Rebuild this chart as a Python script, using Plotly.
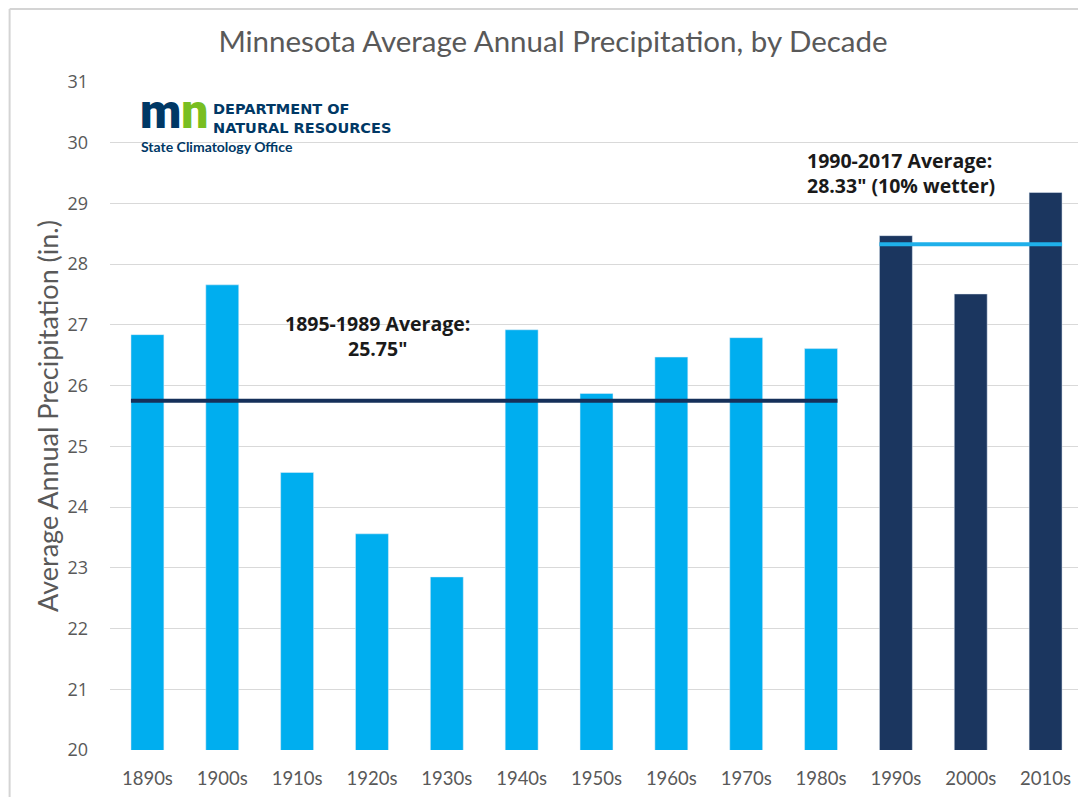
import plotly.graph_objects as go

decades = ["1890s", "1900s", "1910s", "1920s", "1930s", "1940s", "1950s",
           "1960s", "1970s", "1980s", "1990s", "2000s", "2010s"]
precip = [26.84, 27.66, 24.57, 23.56, 22.85, 26.92, 25.87,
          26.47, 26.79, 26.61, 28.47, 27.51, 29.18]
period = ["early"] * 10 + ["recent"] * 3
avg_early = 25.75
avg_recent = 28.33
y_ticks = list(range(20, 32))

LIGHT = "#00aeef"
DARK = "#1b365f"
AVG_EARLY_COLOR = "#15305a"
AVG_RECENT_COLOR = "#1fb0ea"
GRAY = "#595959"
BAR_W = 0.44

W, H = 1086, 797
OFF = 8  # page body offset
ML, MR, MT, MB = 101.5, 10.5, 74, 55
PW, PH = W - ML - MR, H - MT - MB

def paper_x(sx):
    return (sx - OFF - ML) / PW

def paper_y(sy):
    return ((H - (sy - OFF)) - MB) / PH

colors = [LIGHT if p == "early" else DARK for p in period]

fig = go.Figure()
fig.add_trace(go.Bar(x=decades, y=precip, marker_color=colors, width=BAR_W,
                     showlegend=False, hoverinfo="x+y"))

early_idx = [i for i, p in enumerate(period) if p == "early"]
recent_idx = [i for i, p in enumerate(period) if p == "recent"]

fig.add_shape(type="line", xref="x", yref="y",
              x0=early_idx[0] - BAR_W / 2, x1=early_idx[-1] + BAR_W / 2,
              y0=avg_early, y1=avg_early,
              line=dict(color=AVG_EARLY_COLOR, width=4))
fig.add_shape(type="line", xref="x", yref="y",
              x0=recent_idx[0] - BAR_W / 2, x1=recent_idx[-1] + BAR_W / 2,
              y0=avg_recent, y1=avg_recent,
              line=dict(color=AVG_RECENT_COLOR, width=4))

# frame lines (left and top) of the original image
fig.add_shape(type="line", xref="paper", yref="paper",
              x0=paper_x(9), x1=paper_x(9), y0=paper_y(9), y1=paper_y(797),
              line=dict(color="#d4d4d4", width=2))
fig.add_shape(type="line", xref="paper", yref="paper",
              x0=paper_x(9), x1=paper_x(1086), y0=paper_y(9), y1=paper_y(9),
              line=dict(color="#d4d4d4", width=2))

ANN_FONT = dict(family="Open Sans", size=19.5, color="#1a1a1a")
fig.add_annotation(x=paper_x(377), y=paper_y(336), xref="paper", yref="paper",
                   text="<b>1895-1989 Average:<br>25.75\"</b>", showarrow=False,
                   font=ANN_FONT, align="center", xanchor="center", yanchor="middle")
fig.add_annotation(x=paper_x(805), y=paper_y(173), xref="paper", yref="paper",
                   text="<b>1990-2017 Average:<br>28.33\" (10% wetter)</b>", showarrow=False,
                   font=ANN_FONT, align="left", xanchor="left", yanchor="middle")

# Logo (as text)
NAVY = "#003865"
GREEN = "#78be21"
fig.add_annotation(x=paper_x(138), y=paper_y(112), xref="paper", yref="paper",
                   text=f"<span style='color:{NAVY}'>m</span><span style='color:{GREEN}'>n</span>",
                   showarrow=False, xanchor="left", yanchor="middle",
                   font=dict(family="Roboto", size=48, color=NAVY, weight=900))
fig.add_annotation(x=paper_x(211), y=paper_y(119), xref="paper", yref="paper",
                   text="DEPARTMENT OF<br>NATURAL RESOURCES",
                   showarrow=False, xanchor="left", yanchor="middle", align="left",
                   font=dict(family="DejaVu Sans", size=14.5, color=NAVY, weight=700))
fig.add_annotation(x=paper_x(139), y=paper_y(147), xref="paper", yref="paper",
                   text="State Climatology Office",
                   showarrow=False, xanchor="left", yanchor="middle",
                   font=dict(family="Lato", size=14, color=NAVY, weight=700))

fig.update_layout(
    width=W, height=H,
    margin=dict(l=ML, r=MR, t=MT, b=MB),
    paper_bgcolor="white", plot_bgcolor="white",
    title=dict(text="Minnesota Average Annual Precipitation, by Decade",
               x=(553 - OFF) / W, xanchor="center", y=1 - (42 - OFF) / H, yanchor="middle",
               font=dict(family="Lato", size=29.5, color=GRAY)),
    font=dict(family="Lato", color=GRAY),
    xaxis=dict(type="category", showgrid=False, showline=False, ticks="",
               ticklabelstandoff=15,
               tickfont=dict(family="Lato", size=18.5, color=GRAY)),
    yaxis=dict(range=[20, 31], tickvals=y_ticks, showgrid=True, gridcolor="#d9d9d9",
               gridwidth=1, zeroline=False, showline=False, ticks="",
               ticklabelstandoff=21,
               tickfont=dict(family="Open Sans", size=18, color=GRAY),
               title=dict(text="Average Annual Precipitation (in.)",
                          font=dict(family="Lato", size=27, color=GRAY), standoff=0)),
    bargap=0.56,
)

fig.write_html("out.html")
